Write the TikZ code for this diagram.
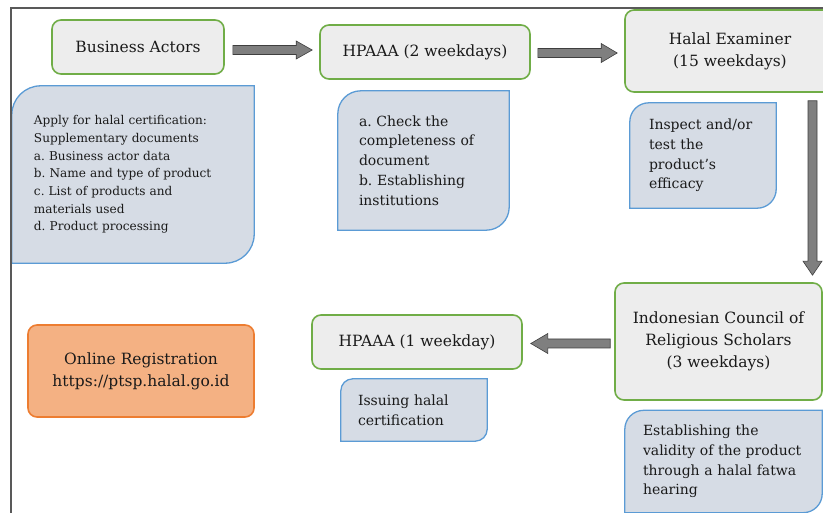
\documentclass[tikz,border=0pt]{standalone}
\usepackage{fontspec}
\setmainfont{DejaVu Serif}
\usetikzlibrary{calc}
\definecolor{gfill}{HTML}{EDEDED}
\definecolor{gdraw}{HTML}{70AD47}
\definecolor{bfill}{HTML}{D6DCE5}
\definecolor{bdraw}{HTML}{5B9BD5}
\definecolor{ofill}{HTML}{F4B183}
\definecolor{odraw}{HTML}{ED7D31}
\definecolor{afill}{HTML}{7F7F7F}
\definecolor{adraw}{HTML}{3F3F3F}
\definecolor{frame}{HTML}{595959}
\definecolor{txt}{HTML}{1A1A1A}
\pgfdeclarelayer{background}
\pgfsetlayers{background,main}
\frenchspacing
\begin{document}
\frenchspacing
\begin{tikzpicture}[x=1pt,y=-1pt,
  greenbox/.style={draw=gdraw, fill=gfill, line width=1.6pt, rounded corners=9pt,
    align=center, text=txt, font=\fontsize{15.5}{22}\selectfont, inner sep=0pt},
  orangebox/.style={greenbox, draw=odraw, fill=ofill},
  bluetext/.style={align=left, text=txt, font=\fontsize{14}{19.8}\selectfont, inner ysep=0pt},
  smalltext/.style={bluetext, font=\fontsize{12.1}{17.7}\selectfont},
  blueshape/.style={draw=bdraw, fill=bfill, line width=1.3pt},
  blockarrow/.style={draw=adraw, fill=afill, line width=0.6pt},
]
\useasboundingbox (0,0) rectangle (823,513);
\clip (0,0) rectangle (823,513);
\draw[frame, line width=1.2pt] (11,520) -- (11,8) -- (830,8);

% green / orange boxes
\node[greenbox, minimum width=172, minimum height=54] (ba) at (138,47) {Business Actors};
\node[greenbox, minimum width=210, minimum height=54] (hp2) at (425,52) {HPAAA (2 weekdays)};
\node[greenbox, minimum width=210, minimum height=82] (he) at (730,51) {Halal Examiner\\(15 weekdays)};
\node[greenbox, minimum width=207, minimum height=117] (icrs) at (718.5,341.5) {Indonesian Council of\\Religious Scholars\\(3 weekdays)};
\node[greenbox, minimum width=210, minimum height=54] (hp1) at (417,342) {HPAAA (1 weekday)};
\node[orangebox, minimum width=226, minimum height=92] (reg) at (141,371) {Online Registration\\https://ptsp.halal.go.id};

% blue boxes (text nodes)
\node[smalltext, text width=198, inner xsep=22, minimum height=177] (d1) at (133,174.5)
 {Apply for halal certification:\\Supplementary documents\\a. Business actor data\\b. Name and type of product\\c. List of products and\\materials used\\d. Product processing};
\node[bluetext, text width=129, inner xsep=21, minimum height=139] (d2) at (423.5,160.5)
 {a. Check the\\completeness of\\document\\b. Establishing\\institutions};
\node[bluetext, text width=108, inner xsep=19, minimum height=105] (d3) at (703,155.5)
 {Inspect and/or\\test the\\product's\\efficacy};
\node[bluetext, text width=112, inner xsep=17, minimum height=62] (d4) at (414,410)
 {Issuing halal\\certification};
\node[bluetext, text width=161, inner xsep=18, minimum height=102] (d5) at (723.5,461.5)
 {Establishing the\\validity of the product\\through a halal fatwa\\hearing};

\begin{pgfonlayer}{background}
\foreach \n/\r in {d1/29,d2/23,d3/19,d4/12,d5/19}{
  \draw[blueshape] ([yshift=-\r pt]\n.north west) arc[start angle=180,end angle=90,radius=\r pt]
    -- (\n.north east) -- ([yshift=\r pt]\n.south east)
    arc[start angle=0,end angle=-90,radius=\r pt] -- (\n.south west) -- cycle;
}
\end{pgfonlayer}

% block arrows
\coordinate (a1s) at ($(ba.east)+(8,3)$);
\coordinate (a1e) at ($(hp2.west)+(-7,-2)$);
\draw[blockarrow] ($(a1s)+(0,-4.5)$) -- ($(a1e)+(-16,-4.5)$) -- ($(a1e)+(-16,-9)$) -- (a1e)
  -- ($(a1e)+(-16,9)$) -- ($(a1e)+(-16,4.5)$) -- ($(a1s)+(0,4.5)$) -- cycle;

\coordinate (a2s) at ($(hp2.east)+(7,1)$);
\coordinate (a2e) at ($(he.west)+(-7,2)$);
\draw[blockarrow] ($(a2s)+(0,-4.5)$) -- ($(a2e)+(-16,-4.5)$) -- ($(a2e)+(-16,-9.5)$) -- (a2e)
  -- ($(a2e)+(-16,9.5)$) -- ($(a2e)+(-16,4.5)$) -- ($(a2s)+(0,4.5)$) -- cycle;

\coordinate (a3s) at (he.south -| 812.5,0);
\coordinate (a3s) at ($(a3s)+(0,8)$);
\coordinate (a3e) at (icrs.north -| a3s);
\coordinate (a3e) at ($(a3e)+(0,-7)$);
\draw[blockarrow] ($(a3s)+(-4.5,0)$) -- ($(a3e)+(-4.5,-14)$) -- ($(a3e)+(-9.5,-14)$) -- (a3e)
  -- ($(a3e)+(9.5,-14)$) -- ($(a3e)+(4.5,-14)$) -- ($(a3s)+(4.5,0)$) -- cycle;

\coordinate (a4s) at ($(icrs.west)+(-4,2)$);
\coordinate (a4e) at ($(hp1.east)+(8,1.5)$);
\draw[blockarrow] ($(a4s)+(0,-4.5)$) -- ($(a4e)+(17,-4.5)$) -- ($(a4e)+(17,-10)$) -- (a4e)
  -- ($(a4e)+(17,10)$) -- ($(a4e)+(17,4.5)$) -- ($(a4s)+(0,4.5)$) -- cycle;
\end{tikzpicture}
\end{document}
